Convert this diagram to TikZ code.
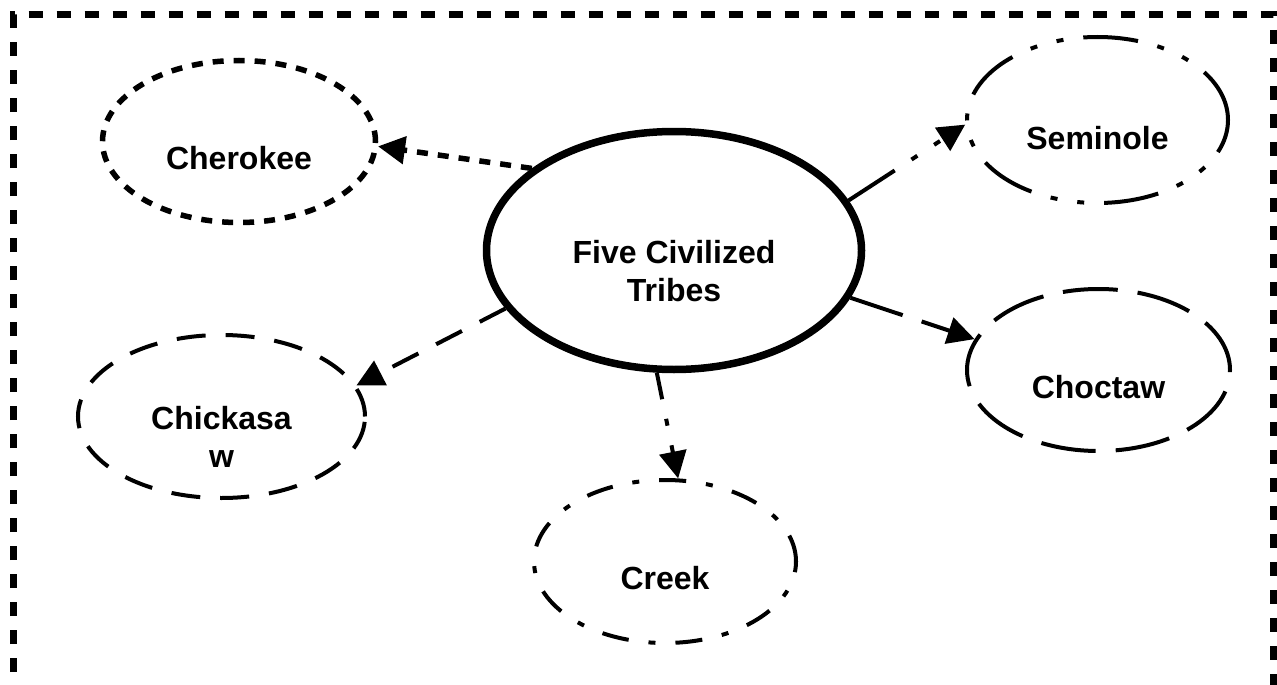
\documentclass[tikz,border=0pt]{standalone}
\usepackage{fontspec}
\setmainfont{Liberation Sans}
\usetikzlibrary{shapes.geometric,arrows.meta}
\tikzset{
  trborder/.style={line width=7pt, draw=black, dash pattern=on 14pt off 14pt, line cap=butt},
  trhub/.style={ellipse, draw=black, line width=7.5pt, minimum width=375pt, minimum height=238pt, inner sep=0pt},
  trtribe/.style={ellipse, draw=black, inner sep=0pt},
  trdots/.style={line width=5.5pt, dash pattern=on 11pt off 10pt},
  trdash/.style={line width=4pt, dash pattern=on 29pt off 20pt},
  trlong/.style={line width=4pt, dash pattern=on 55pt off 20pt},
  trdashdot/.style={line width=4pt, dash pattern=on 27pt off 20pt on 7pt off 20pt},
  trdashdotdot/.style={line width=4pt, dash pattern=on 55pt off 20pt on 7pt off 20pt on 7pt off 20pt},
  trtext/.style={font=\fontsize{32}{38}\selectfont\bfseries, align=center, inner sep=0pt},
  trarrow/.style={draw=black, -{Triangle[length=27pt,width=27pt]}},
}
\begin{document}
\begin{tikzpicture}[x=1pt,y=-1pt]
\useasboundingbox (0,0) rectangle (1277,685);
\clip (0,0) rectangle (1277,685);
% frame, open at the bottom
\draw[trborder] (13.5,700) -- (13.5,15) -- (1273.5,15) -- (1273.5,700);
% tribes
\node[trhub] (hub) at (674,250.5) {};
\node[trtribe, trdots, minimum width=273pt, minimum height=162pt] (cher) at (239,141.5) {};
\node[trtribe, trdashdotdot, minimum width=261pt, minimum height=166pt] (semi) at (1097.5,120) {};
\node[trtribe, trlong, minimum width=263pt, minimum height=162pt] (choc) at (1098.5,370) {};
\node[trtribe, trdash, minimum width=287pt, minimum height=163pt] (chic) at (221.5,416.5) {};
\node[trtribe, trdashdot, minimum width=262pt, minimum height=163pt] (creek) at (665,561.5) {};
% labels
\node[trtext] (hubtext) at ([yshift=-21pt]hub.center) {Five Civilized\\Tribes};
\node[trtext] (chertext) at ([yshift=-17pt]cher.center) {Cherokee};
\node[trtext] (semitext) at ([yshift=-18pt]semi.center) {Seminole};
\node[trtext] (choctext) at ([yshift=-17pt]choc.center) {Choctaw};
\node[trtext] (chictext) at ([yshift=-20pt]chic.center) {Chickasa\\w};
\node[trtext] (creektext) at ([yshift=-17pt]creek.center) {Creek};
% connectors
\draw[trarrow, trdots] (hub.150.6) -- (cher.-2);
\draw[trarrow, trdashdotdot] (hub.16.4) -- (semi.182.5);
\draw[trarrow, trlong] (hub.-15.8) -- (choc.166);
\draw[trarrow, trdash] (hub.199.4) -- (chic.13);
\draw[trarrow, trdashdot] (hub.262.3) -- (creek.81);
\end{tikzpicture}
\end{document}
